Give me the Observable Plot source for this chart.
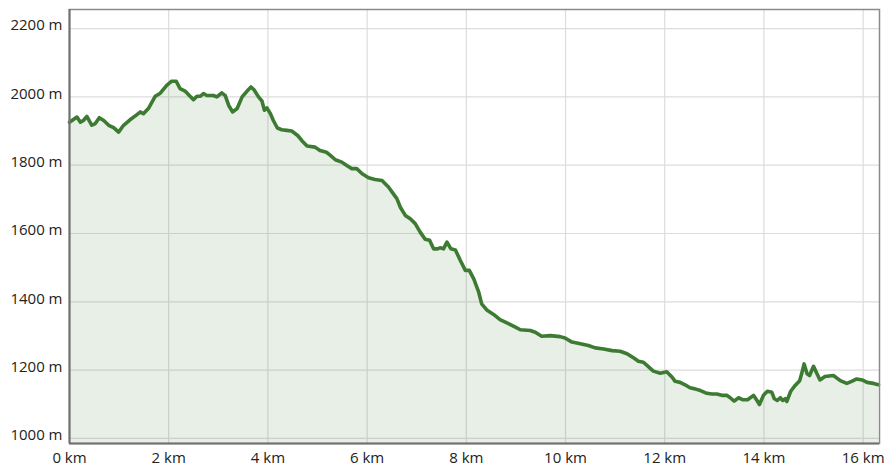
<!DOCTYPE html>
<html>
<head>
<meta charset="utf-8">
<script src="https://cdn.jsdelivr.net/npm/d3@7"></script>
<script src="https://cdn.jsdelivr.net/npm/@observablehq/plot@0.6"></script>
<style>
  html, body { margin: 0; padding: 0; background: #fff; }
  #chart svg { display: block; }
</style>
</head>
<body>
<div id="chart"></div>
<script>
// Distance along the route (km)
const distanceKm = [
  0.00, 0.15, 0.22, 0.28, 0.35, 0.45, 0.52, 0.60, 0.69, 0.79, 0.89, 0.99, 1.09, 1.22, 1.34, 1.43, 1.49, 1.59, 1.73, 1.83,
  1.96, 2.06, 2.15, 2.23, 2.33, 2.43, 2.50, 2.57, 2.64, 2.70, 2.77, 2.90, 2.97, 3.07, 3.14, 3.21, 3.29, 3.38, 3.48, 3.58,
  3.66, 3.72, 3.81, 3.88, 3.93, 3.98, 4.05, 4.11, 4.19, 4.28, 4.38, 4.48, 4.60, 4.69, 4.79, 4.95, 5.05, 5.18, 5.26, 5.36,
  5.49, 5.59, 5.69, 5.79, 5.90, 6.03, 6.16, 6.30, 6.43, 6.53, 6.60, 6.67, 6.77, 6.87, 6.97, 7.07, 7.17, 7.26, 7.34, 7.42,
  7.47, 7.54, 7.61, 7.69, 7.78, 7.88, 7.98, 8.06, 8.15, 8.25, 8.31, 8.42, 8.55, 8.68, 8.85, 8.99, 9.09, 9.29, 9.39, 9.52,
  9.69, 9.89, 9.99, 10.13, 10.30, 10.46, 10.60, 10.77, 10.94, 11.10, 11.24, 11.37, 11.47, 11.57, 11.67, 11.77, 11.91, 12.04, 12.15, 12.21,
  12.31, 12.41, 12.51, 12.61, 12.72, 12.85, 12.95, 13.05, 13.15, 13.25, 13.32, 13.40, 13.49, 13.58, 13.67, 13.79, 13.86, 13.91, 13.99, 14.07,
  14.16, 14.21, 14.27, 14.33, 14.38, 14.43, 14.46, 14.54, 14.63, 14.72, 14.76, 14.81, 14.87, 14.92, 15.00, 15.07, 15.13, 15.23, 15.40, 15.54,
  15.67, 15.77, 15.87, 15.98, 16.08, 16.21, 16.31
];
// Elevation (m)
const elevationM = [
  1926, 1941, 1926, 1931, 1943, 1917, 1922, 1939, 1931, 1917, 1910, 1897, 1917, 1933, 1946, 1956, 1951, 1966, 2002, 2011,
  2034, 2046, 2046, 2024, 2017, 2002, 1992, 2002, 2002, 2010, 2004, 2004, 2000, 2012, 2004, 1975, 1956, 1966, 2000, 2017,
  2029, 2021, 2000, 1988, 1961, 1968, 1951, 1931, 1909, 1904, 1902, 1900, 1887, 1871, 1856, 1853, 1843, 1838, 1829, 1816,
  1809, 1799, 1790, 1790, 1775, 1763, 1758, 1755, 1736, 1716, 1702, 1677, 1653, 1643, 1629, 1604, 1583, 1580, 1555, 1555,
  1558, 1555, 1575, 1555, 1552, 1521, 1492, 1492, 1467, 1428, 1394, 1375, 1363, 1348, 1336, 1326, 1318, 1316, 1311, 1299,
  1301, 1298, 1294, 1282, 1277, 1272, 1265, 1262, 1257, 1255, 1248, 1236, 1226, 1223, 1210, 1197, 1191, 1195, 1179, 1167,
  1164, 1157, 1148, 1145, 1140, 1132, 1130, 1130, 1126, 1126, 1119, 1109, 1119, 1113, 1113, 1126, 1111, 1099, 1126, 1138,
  1135, 1116, 1111, 1119, 1111, 1116, 1108, 1138, 1155, 1169, 1189, 1218, 1189, 1184, 1211, 1189, 1171, 1181, 1184, 1169,
  1161, 1167, 1174, 1171, 1164, 1161, 1157
];
const xTicks = [0, 2, 4, 6, 8, 10, 12, 14, 16];
const yTicks = [1000, 1200, 1400, 1600, 1800, 2000, 2200];
const xDomain = [0, 16.33];
const yDomain = [985, 2256];

const profile = distanceKm.map((d, i) => ({km: d, m: elevationM[i]}));

const chart = Plot.plot({
  width: 887,
  height: 468,
  marginLeft: 69,
  marginRight: 8,
  marginTop: 9,
  marginBottom: 25,
  style: {fontFamily: "'Open Sans', sans-serif", fontSize: "15px", color: "#222", background: "#fff"},
  x: {domain: xDomain},
  y: {domain: yDomain},
  marks: [
    Plot.gridX(xTicks, {stroke: "#dcdcdc", strokeOpacity: 1, strokeWidth: 1.2}),
    Plot.gridY(yTicks, {stroke: "#dcdcdc", strokeOpacity: 1, strokeWidth: 1.2}),
    Plot.areaY(profile, {x: "km", y1: yDomain[0], y2: "m", fill: "#3f7a30", fillOpacity: 0.12}),
    Plot.line(profile, {x: "km", y: "m", stroke: "#3d7b33", strokeWidth: 3.6, strokeLinejoin: "round", strokeLinecap: "round"}),
    Plot.frame({stroke: "#8a8a8a", strokeWidth: 1.5}),
    Plot.ruleX([xDomain[0]], {stroke: "#707070", strokeWidth: 2}),
    Plot.ruleY([yDomain[0]], {stroke: "#707070", strokeWidth: 2}),
    Plot.axisX(xTicks, {tickSize: 0, tickPadding: 9, tickFormat: d => `${d} km`, label: null, fill: "#222"}),
    Plot.axisY(yTicks, {tickSize: 0, tickPadding: 7, tickFormat: d => `${d} m`, label: null, dy: -3, fill: "#222"})
  ]
});
document.getElementById("chart").appendChild(chart);
</script>
</body>
</html>
